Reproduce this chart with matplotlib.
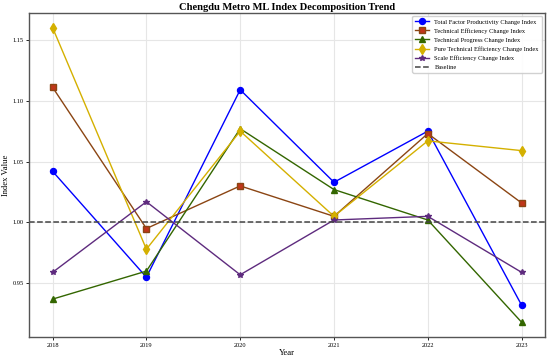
import matplotlib
matplotlib.use("Agg")
import matplotlib.pyplot as plt

plt.rcParams['font.family'] = ['Liberation Serif', 'DejaVu Serif']

# data
years = [2018, 2019, 2020, 2021, 2022, 2023]
tfp = [1.042, 0.955, 1.109, 1.033, 1.075, 0.932]
tech_eff = [1.111, 0.995, 1.030, 1.005, 1.073, 1.016]
tech_prog = [0.937, 0.960, 1.077, 1.027, 1.002, 0.918]
pure_eff = [1.160, 0.978, 1.075, 1.005, 1.067, 1.059]
scale_eff = [0.959, 1.017, 0.957, 1.002, 1.005, 0.959]
baseline = 1.0

fig = plt.figure(figsize=(5.5, 3.6), dpi=100)
ax = fig.add_axes([0.053, 0.064, 0.938, 0.900])

ax.plot(years, tfp, color='blue', marker='o', markersize=4.3, linewidth=1.0,
        label='Total Factor Productivity Change Index')
ax.plot(years, tech_eff, color='#8B4513', marker='s', markersize=4.0, linewidth=1.0,
        markerfacecolor='#C0361A', markeredgecolor='#8B4513',
        label='Technical Efficiency Change Index')
ax.plot(years, tech_prog, color='#336600', marker='^', markersize=4.3, linewidth=1.0,
        label='Technical Progress Change Index')
ax.plot(years, pure_eff, color='#D4B000', marker='d', markersize=4.8, linewidth=1.0,
        label='Pure Technical Efficiency Change Index')
ax.plot(years, scale_eff, color='#5E2B7E', marker='*', markersize=4.3, linewidth=1.0,
        label='Scale Efficiency Change Index')
ax.axhline(baseline, color='#444444', linestyle='--', linewidth=1.1, label='Baseline')

ax.set_title('Chengdu Metro ML Index Decomposition Trend', fontsize=7.6, fontweight='bold', pad=2)
ax.set_xlabel('Year', fontsize=6.2, labelpad=1)
ax.set_ylabel('Index Value', fontsize=6.2, labelpad=2)
ax.set_xticks(years)
ax.set_yticks([0.95, 1.00, 1.05, 1.10, 1.15])
ax.tick_params(labelsize=4.6, length=2, width=0.6, pad=2)
ax.grid(True, color='#e6e6e6', linewidth=0.8)
for s in ax.spines.values():
    s.set_color('#555555')
    s.set_linewidth(1.0)

ax.legend(loc='upper right', fontsize=4.6, framealpha=0.9, edgecolor='#cccccc',
          borderpad=0.45, labelspacing=0.55, handlelength=2.2)

fig.savefig('out.png', dpi=100)
